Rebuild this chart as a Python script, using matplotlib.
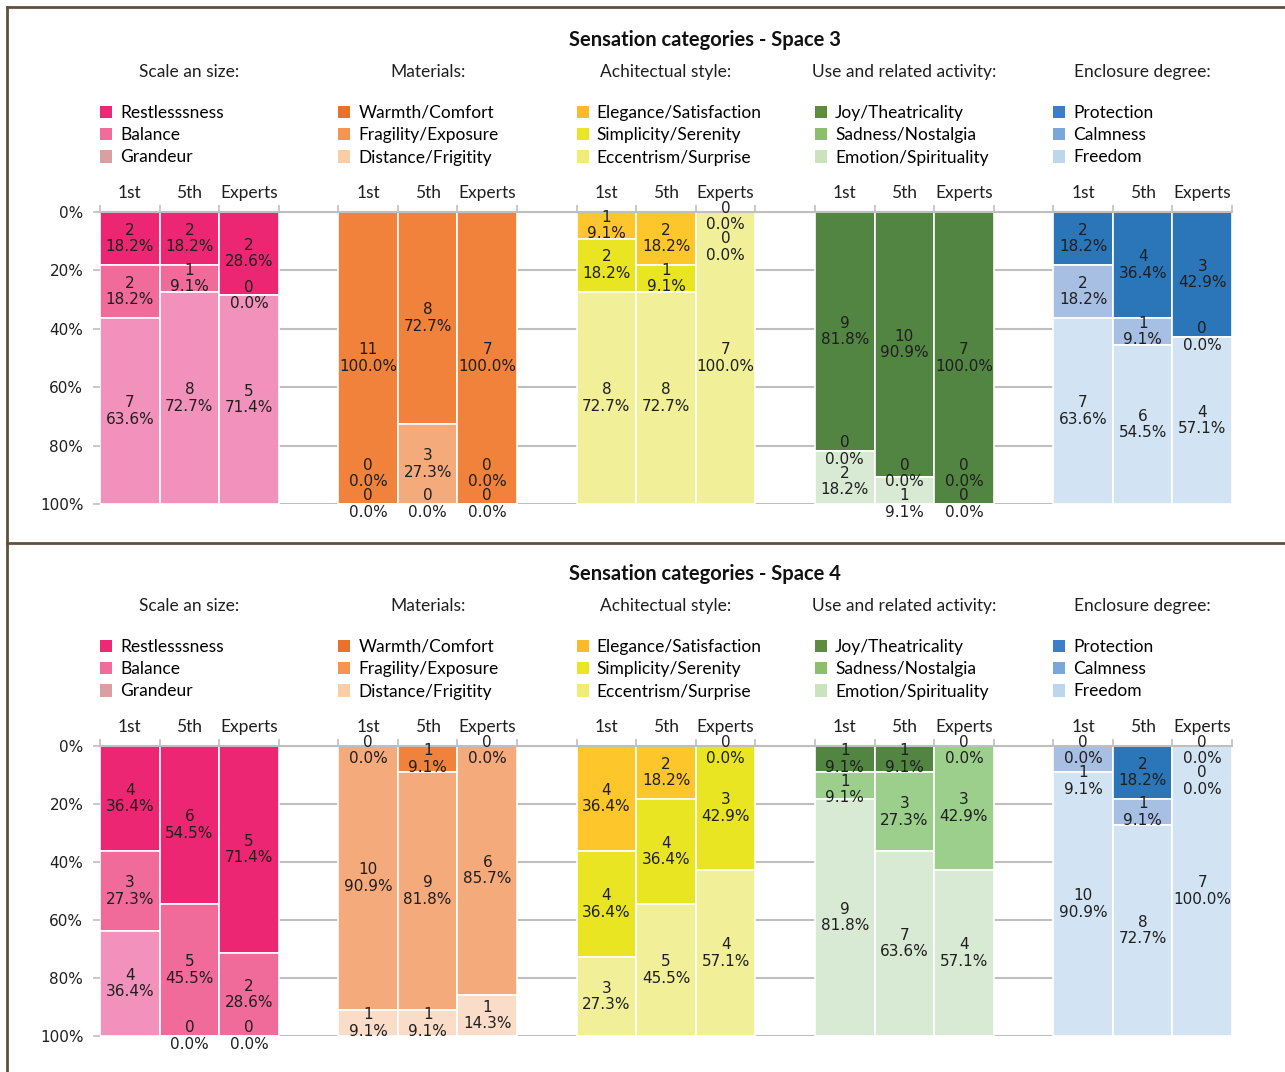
import numpy as np
import matplotlib
matplotlib.use("Agg")
import matplotlib.pyplot as plt
import matplotlib.transforms as mtransforms
from matplotlib.patches import Patch
from matplotlib.lines import Line2D
from matplotlib.legend import Legend

groups = ["Scale an size:", "Materials:", "Achitectual style:",
          "Use and related activity:", "Enclosure degree:"]
respondents = ["1st", "5th", "Experts"]
categories = [
    ["Restlesssness", "Balance", "Grandeur"],
    ["Warmth/Comfort", "Fragility/Exposure", "Distance/Frigitity"],
    ["Elegance/Satisfaction", "Simplicity/Serenity", "Eccentrism/Surprise"],
    ["Joy/Theatricality", "Sadness/Nostalgia", "Emotion/Spirituality"],
    ["Protection", "Calmness", "Freedom"],
]

# counts per group -> per respondent -> per category
space3_counts = [
    [[2, 2, 7], [2, 1, 8], [2, 0, 5]],
    [[11, 0, 0], [8, 3, 0], [7, 0, 0]],
    [[1, 2, 8], [2, 1, 8], [0, 0, 7]],
    [[9, 0, 2], [10, 0, 1], [7, 0, 0]],
    [[2, 2, 7], [4, 1, 6], [3, 0, 4]],
]
space4_counts = [
    [[4, 3, 4], [6, 5, 0], [5, 2, 0]],
    [[0, 10, 1], [1, 9, 1], [0, 6, 1]],
    [[4, 4, 3], [2, 4, 5], [0, 3, 4]],
    [[1, 1, 9], [1, 3, 7], [0, 3, 4]],
    [[0, 1, 10], [2, 1, 8], [0, 0, 7]],
]

bar_colors = [
    ["#EC2672", "#F06A9A", "#F292BC"],
    ["#F0823B", "#F4AA7B", "#FADDC9"],
    ["#FDC62A", "#E9E523", "#F1EF98"],
    ["#528442", "#9BCF8B", "#D8EAD3"],
    ["#2A76B8", "#A6BFE2", "#D2E4F3"],
]
legend_colors = [
    ["#EC2A73", "#F06D9B", "#D9A0A3"],
    ["#E9712A", "#F5954F", "#FCCEA8"],
    ["#FDB92C", "#EBE526", "#F0EC75"],
    ["#5E8B3E", "#8DBF6A", "#CBE3BD"],
    ["#3D7FC6", "#7AA7DA", "#BDD6EE"],
]

HEAD_FONT = ["Lato", "DejaVu Sans"]
LABEL_FONT = "DejaVu Sans"
GRID = "#BFBFBF"

fig = plt.figure(figsize=(12.85, 10.72), dpi=100)


def label_positions(centers, gap=10.5):
    # keep stacked labels from sitting on top of each other
    c = list(centers)
    c[0] = max(c[0], 1.5)
    for i in range(1, len(c)):
        c[i] = max(c[i], c[i - 1] + gap)
    if c[-1] > 100:
        c[-1] = 100
        for i in range(len(c) - 2, -1, -1):
            c[i] = min(c[i], c[i + 1] - gap)
    return c


def draw_panel(ax, counts, title):
    for g in range(5):
        for j in range(3):
            x = g * 4 + j
            vals = np.array(counts[g][j], dtype=float)
            pct = vals / vals.sum() * 100
            bottoms = np.concatenate([[0], np.cumsum(pct)[:-1]])
            ax.bar([x] * 3, pct, bottom=bottoms, width=1.0,
                   color=bar_colors[g], edgecolor="white", linewidth=1.2)
            ys = label_positions(bottoms + pct / 2)
            for k in range(3):
                ax.text(x, ys[k], f"{counts[g][j][k]}\n{pct[k]:.1f}%",
                        ha="center", va="center", fontsize=11,
                        family=LABEL_FONT, color="#1F1F1F", linespacing=1.12)

    ax.set_xlim(-0.5, 18.5)
    ax.set_ylim(100, 0)
    ax.set_yticks(np.arange(0, 101, 20))
    ax.set_yticklabels([f"{v}%" for v in range(0, 101, 20)],
                       fontsize=11, family=LABEL_FONT, color="#1F1F1F")
    ax.yaxis.grid(True, color=GRID, linewidth=1.5)
    ax.set_axisbelow(True)
    ax.tick_params(axis="y", length=5, color=GRID, width=1.2, pad=7)

    ax.xaxis.tick_top()
    ax.set_xticks(np.arange(-0.5, 19, 1))
    ax.set_xticklabels([])
    ax.set_xticks([g * 4 + j for g in range(5) for j in range(3)], minor=True)
    ax.set_xticklabels(respondents * 5, minor=True, fontsize=12.5,
                       family=HEAD_FONT, color="#1F1F1F")
    ax.tick_params(axis="x", which="major", length=5, color=GRID, width=1.2)
    ax.tick_params(axis="x", which="minor", length=0, pad=8)
    for s in ["left", "right", "bottom"]:
        ax.spines[s].set_visible(False)
    ax.spines["top"].set_color(GRID)
    ax.spines["top"].set_linewidth(1.5)

    trans = mtransforms.blended_transform_factory(ax.transData, ax.transAxes)
    for g in range(5):
        ax.annotate(groups[g], xy=(g * 4 + 1, 1), xycoords=trans,
                    xytext=(0, 140 * 0.72), textcoords="offset points",
                    ha="center", va="center", fontsize=12.5,
                    family=HEAD_FONT, color="#1F1F1F")
        handles = [Patch(facecolor=c, edgecolor="none") for c in legend_colors[g]]
        off = mtransforms.ScaledTranslation(0, 107 / 100, fig.dpi_scale_trans)
        leg = Legend(ax, handles, categories[g], loc="upper left",
                     bbox_to_anchor=(g * 4 - 0.5, 1),
                     bbox_transform=trans + off, frameon=False,
                     borderpad=0, borderaxespad=0, handlelength=0.7,
                     handleheight=0.7, handletextpad=0.46,
                     labelspacing=0.36,
                     prop={"family": HEAD_FONT, "size": 12.5})
        ax.add_artist(leg)

    ax.annotate(title, xy=(9.65, 1), xycoords=trans,
                xytext=(0, 172 * 0.72), textcoords="offset points",
                ha="center", va="center", fontsize=14.5, fontweight="bold",
                family=HEAD_FONT, color="#111111")


ax1 = fig.add_axes([100 / 1285, 1 - 504 / 1072, 1132 / 1285, 292 / 1072])
ax2 = fig.add_axes([100 / 1285, 1 - 1036 / 1072, 1132 / 1285, 290 / 1072])
draw_panel(ax1, space3_counts, "Sensation categories - Space 3")
draw_panel(ax2, space4_counts, "Sensation categories - Space 4")

frame = "#5E503C"
fig.add_artist(Line2D([7 / 1285, 1], [1 - 7 / 1072] * 2, transform=fig.transFigure, color=frame, lw=2))
fig.add_artist(Line2D([7 / 1285] * 2, [0, 1 - 7 / 1072], transform=fig.transFigure, color=frame, lw=2))
fig.add_artist(Line2D([7 / 1285, 1], [1 - 543 / 1072] * 2, transform=fig.transFigure, color=frame, lw=2))

fig.savefig("out.png", dpi=100)
